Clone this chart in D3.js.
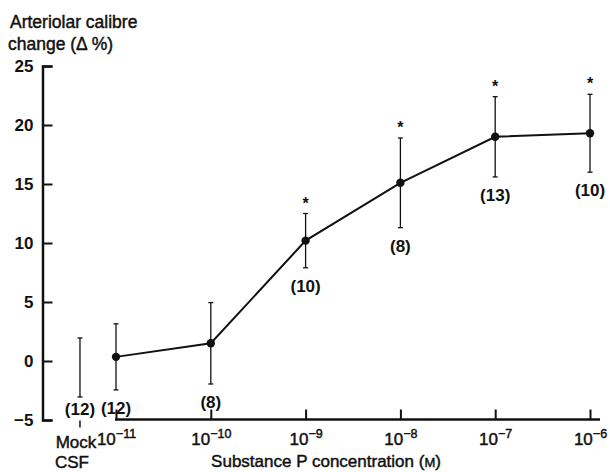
<!DOCTYPE html>
<html lang="en">
<head>
<meta charset="UTF-8">
<title>Arteriolar calibre vs Substance P</title>
<style>
  body { margin: 0; background: #fff; }
  svg text { font-family: "Liberation Sans", Arial, Helvetica, sans-serif; fill: #111; }
  svg text.heavy { stroke: #111; stroke-width: 0.45px; }
</style>
</head>
<body>
<div id="chart"></div>
<script src="https://d3js.org/d3.v7.min.js"></script>
<script>
// data
const exponents = [-11, -10, -9, -8, -7, -6];        // log10 concentration (M)
const means     = [0.35, 1.5, 10.2, 15.1, 19.0, 19.3];
const errs      = [2.8, 3.45, 2.3, 3.8, 3.4, 3.3];
const nLabels   = ["(12)", "(8)", "(10)", "(8)", "(13)", "(10)"];
const starred   = [false, false, true, true, true, true];

const mockMean = -0.55, mockErr = 2.5, mockN = "(12)";
const mockPos = -11.38;   // where "Mock CSF" sits on the exponent axis

const yTicks = [-5, 0, 5, 10, 15, 20, 25];

const W = 610, H = 472;
const svg = d3.select("#chart").append("svg")
    .attr("width", W).attr("height", H);

const x = d3.scaleLinear().domain([-11, -6]).range([116, 590]);
const y = d3.scaleLinear().domain([-5, 25]).range([420, 66]);

const ink = "#111";

// y axis with inward ticks
const yAxis = svg.append("g")
    .attr("transform", "translate(42.5,0)")
    .call(d3.axisLeft(y).tickValues(yTicks).tickSize(-10).tickSizeOuter(-10).tickPadding(9)
        .tickFormat(d => d < 0 ? "\u2212" + Math.abs(d) : d));
yAxis.select(".domain").attr("stroke", ink).attr("stroke-width", 2.5);
yAxis.selectAll(".tick line").attr("stroke", ink).attr("stroke-width", 2);
yAxis.selectAll("text").attr("font-size", 17).attr("font-weight", "bold").attr("fill", ink);

// x axis
const xAxis = svg.append("g")
    .attr("transform", "translate(0,419.5)")
    .call(d3.axisBottom(x).tickValues(exponents).tickSize(-10).tickSizeOuter(0).tickPadding(13));
xAxis.select(".domain").remove();
xAxis.append("line")
    .attr("x1", x(-11) - 1).attr("x2", x(-6) + 10)
    .attr("stroke", ink).attr("stroke-width", 2.5);
xAxis.selectAll(".tick line").attr("stroke", ink).attr("stroke-width", 2);
xAxis.selectAll(".tick text").each(function(d) {
    const t = d3.select(this).text("").attr("class", "heavy").attr("font-size", 17).attr("fill", ink);
    t.append("tspan").text("10");
    t.append("tspan").attr("dy", "-0.5em").attr("font-size", 12.5).text("\u2212" + Math.abs(d));
});

// Mock CSF tick and label
xAxis.append("line")
    .attr("x1", x(mockPos)).attr("x2", x(mockPos))
    .attr("y1", 1).attr("y2", 8)
    .attr("stroke", ink).attr("stroke-width", 1.5);
svg.append("text").attr("class", "heavy").attr("x", x(mockPos) - 4).attr("y", 448)
    .attr("text-anchor", "middle").attr("font-size", 17).text("Mock");
svg.append("text").attr("class", "heavy").attr("x", x(mockPos) - 8).attr("y", 468)
    .attr("text-anchor", "middle").attr("font-size", 17).text("CSF");

// axis titles
const xt = svg.append("text").attr("class", "heavy").attr("x", 326).attr("y", 467)
    .attr("text-anchor", "middle").attr("font-size", 17);
xt.append("tspan").text("Substance P concentration (");
xt.append("tspan").attr("font-size", 13).text("M");
xt.append("tspan").text(")");
svg.append("text").attr("class", "heavy").attr("x", 10).attr("y", 28).attr("font-size", 17.5).text("Arteriolar calibre");
svg.append("text").attr("class", "heavy").attr("x", 8).attr("y", 50).attr("font-size", 17.5).text("change (\u0394 %)");

// error bars
const pts = exponents.map((e, i) => ({ pos: e, m: means[i], se: errs[i], n: nLabels[i], star: starred[i] }));
const allBars = [{ pos: mockPos, m: mockMean, se: mockErr, n: mockN, star: false }].concat(pts);

const bars = svg.append("g").selectAll("g").data(allBars).join("g");
bars.append("line")
    .attr("x1", d => x(d.pos)).attr("x2", d => x(d.pos))
    .attr("y1", d => y(d.m + d.se)).attr("y2", d => y(d.m - d.se))
    .attr("stroke", ink).attr("stroke-width", 1.3);
bars.selectAll(".cap").data(d => [[d.pos, d.m + d.se], [d.pos, d.m - d.se]]).join("line")
    .attr("x1", d => x(d[0]) - 2.5).attr("x2", d => x(d[0]) + 2.5)
    .attr("y1", d => y(d[1])).attr("y2", d => y(d[1]))
    .attr("stroke", ink).attr("stroke-width", 1.3);

// n labels under each bar
bars.append("text")
    .attr("x", d => x(d.pos)).attr("y", d => Math.min(y(d.m - d.se) + 24, 415))
    .attr("text-anchor", "middle").attr("font-size", 17).attr("font-weight", "bold")
    .text(d => d.n);

// asterisks
bars.filter(d => d.star).append("text")
    .attr("x", d => x(d.pos)).attr("y", d => y(d.m + d.se) - 5)
    .attr("text-anchor", "middle").attr("font-size", 16).attr("font-weight", "bold")
    .text("*");

// line and dots
svg.append("path").datum(pts)
    .attr("fill", "none").attr("stroke", ink).attr("stroke-width", 2)
    .attr("d", d3.line().x(d => x(d.pos)).y(d => y(d.m)));
svg.append("g").selectAll("circle").data(pts).join("circle")
    .attr("cx", d => x(d.pos)).attr("cy", d => y(d.m)).attr("r", 4.2)
    .attr("fill", ink);
</script>
</body>
</html>
